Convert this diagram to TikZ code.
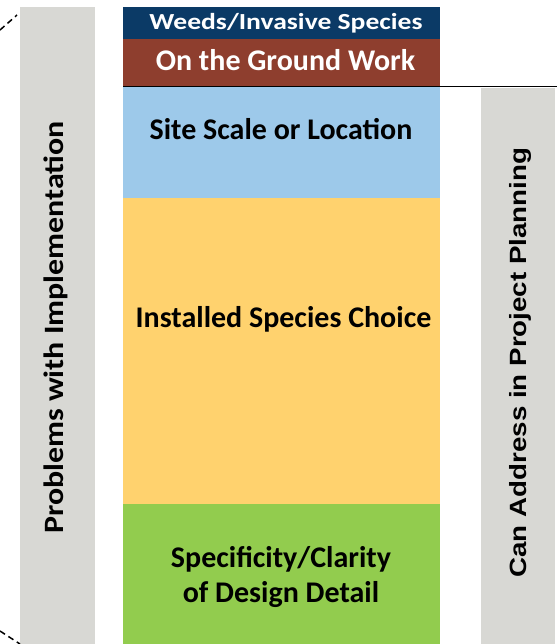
\documentclass[tikz,border=0pt]{standalone}
\usepackage{fontspec}
\setmainfont{Carlito}
\newfontfamily\arialfont{Liberation Sans}
\definecolor{navyband}{HTML}{0B3A66}
\definecolor{brownband}{HTML}{8E3E2E}
\definecolor{siteband}{HTML}{9DC9EA}
\definecolor{speciesband}{HTML}{FFD26E}
\definecolor{designband}{HTML}{92CC4E}
\definecolor{sideband}{HTML}{D8D8D4}

\begin{document}
\begin{tikzpicture}[x=1pt,y=-1pt,
    lbl/.style={font=\bfseries\fontsize{30}{35}\selectfont, align=center, inner sep=0pt, anchor=base},
    sidelbl/.style={rotate=90, inner sep=0pt, anchor=base}]
    \useasboundingbox (0,0) rectangle (557,644);
    % side bars
    \fill [sideband] (20,7) rectangle (95,644);
    \fill [sideband] (481,88) rectangle (555,644);
    % dashed outline going off the page
    \draw [black, line width=1.5pt, dash pattern=on 6pt off 4pt] (0,30) -- (17,15);
    \draw [black, line width=1.5pt, dash pattern=on 6pt off 4pt] (0,631) -- (20,644);
    % central column
    \fill [navyband] (123,7) rectangle (440,39);
    \fill [brownband] (123,39) rectangle (440,86);
    \fill [siteband] (123,87) rectangle (440,198);
    \fill [speciesband] (123,198) rectangle (440,504);
    \fill [designband] (123,504) rectangle (440,644);
    \draw [black, line width=1.4pt] (123,86.5) -- (557,86.5);
    % labels
    \node (weeds) [lbl, text=white, font=\bfseries\fontsize{23}{27}\selectfont] at (286,30) {\scalebox{1.2}[1]{Weeds/Invasive Species}};
    \node (ground) [lbl, text=white] at (285.5,71) {On the Ground Work};
    \node (site) [lbl] at (281,139.5) {Site Scale or Location};
    \node (species) [lbl] at (283.5,327) {Installed Species Choice};
    \node (design) [lbl] at (281,602) {Specificity/Clarity\\of Design Detail};
    \node (problems) [sidelbl, font=\bfseries\fontsize{28}{32}\selectfont] at (63,327.5) {\scalebox{1.14}[1]{Problems with Implementation}};
    \node (planning) [sidelbl, font=\arialfont\bfseries\fontsize{23.5}{28}\selectfont] at (526,362.5) {\scalebox{1.18}[1]{Can Address in Project Planning}};
\end{tikzpicture}
\end{document}
